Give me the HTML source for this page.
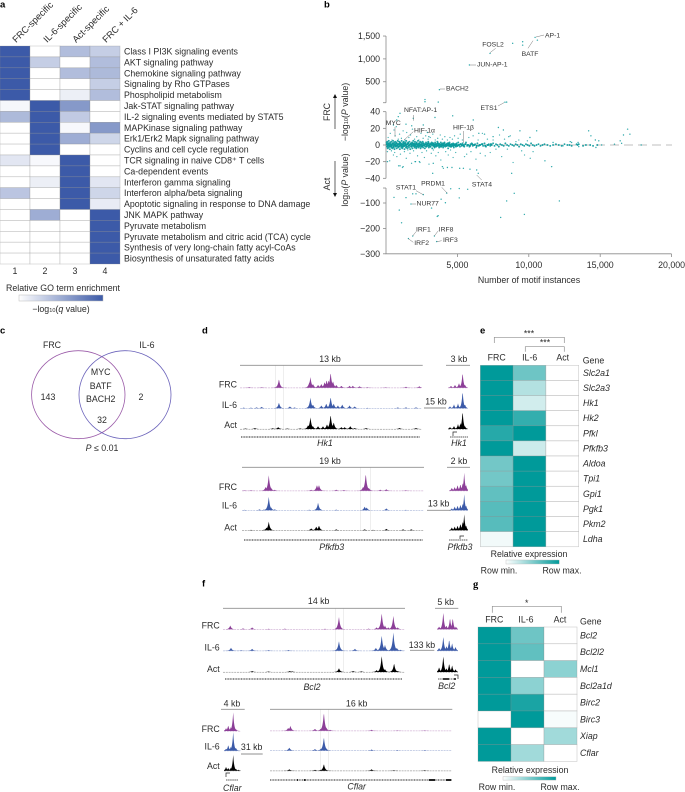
<!DOCTYPE html>
<html lang="en">
<head>
<meta charset="utf-8">
<title>Motif enrichment figure</title>
<style>
html,body{margin:0;padding:0;background:#fff;width:685px;height:792px;overflow:hidden}
svg{display:block;font-family:"Liberation Sans",sans-serif;fill:#2b2b2b}
text{font-size:8.8px;dominant-baseline:central}
.m{text-anchor:middle}
.e{text-anchor:end}
.pl{font-weight:bold;font-size:9.5px;fill:#000}
.an{font-size:6.8px;fill:#333}
.tr{font-size:8.8px}
.it{font-style:italic}
.cl{font-size:9.3px}
.ax{stroke:#8a8a8a;stroke-width:.8;fill:none}
.ld{stroke:#666;stroke-width:.45;fill:none}
.sc{stroke:#8f8f8f;stroke-width:.9;fill:none}
.br{stroke:#8f8f8f;stroke-width:.7;fill:none}
</style>
</head>
<body>
<svg id="fig" xmlns="http://www.w3.org/2000/svg" width="685" height="792" viewBox="0 0 685 792">
<defs>
<linearGradient id="gb" x1="0" x2="1" y1="0" y2="0"><stop offset="0" stop-color="#fff"/><stop offset="1" stop-color="#3c5aa8"/></linearGradient>
<linearGradient id="gt" x1="0" x2="1" y1="0" y2="0"><stop offset="0" stop-color="#fff"/><stop offset="1" stop-color="#009a9a"/></linearGradient>
</defs>

<text class="pl" x="0" y="5">a</text>
<text class="pl" x="324" y="5">b</text>
<text class="pl" x="0" y="331">c</text>
<text class="pl" x="202" y="331">d</text>
<text class="pl" x="480" y="331">e</text>
<text class="pl" x="202" y="584">f</text>
<text class="pl" x="473" y="585" style="font-family:'Liberation Serif',serif;font-size:10.5px">g</text>

<!-- panel a -->
<g id="heatA"></g>
<text class="m" x="63" y="288">Relative GO term enrichment</text>
<rect x="19" y="295" width="84" height="6" fill="url(#gb)" stroke="#bbb" stroke-width=".5"/>
<text class="m" x="61" y="309">−log<tspan font-size="5.6" dy="2">10</tspan><tspan dy="-2">(</tspan><tspan font-style="italic">q</tspan> value)</text>

<!-- panel b -->
<line x1="386" x2="672" y1="145" y2="145" stroke="#aaa" stroke-width=".8" stroke-dasharray="9 5"/>
<g id="axesB"></g>
<g id="dots"></g>
<g>
<path class="ld" d="M536 37L544 35M490 52.7L495.7 48.3M533 40.7L528 48.3M470 65H476M440 89H445M498 106L504 102.7M413.3 115V120.7M395 127V136.7M413.3 131.7L404 140M463.3 131V143M476.7 175L481.7 180M441.7 187.3L447.3 193.3M416 190.7L423.3 194.7M411.7 204H416M412.7 236L416 231.7M434.3 236L438.3 230.7M436.7 241.7L441.7 240.7M408.3 238.7L413.3 242.3"/>
</g>
<text class="an" x="545" y="36">AP-1</text>
<text class="an m" x="493" y="45">FOSL2</text>
<text class="an m" x="530" y="54.3">BATF</text>
<text class="an" x="477" y="65">JUN-AP-1</text>
<text class="an" x="446" y="89">BACH2</text>
<text class="an m" x="489" y="108.7">ETS1</text>
<text class="an" x="404" y="110.7">NFAT:AP-1</text>
<text class="an" x="385.7" y="123.3">MYC</text>
<text class="an" x="414" y="131">HIF-1α</text>
<text class="an" x="453" y="128">HIF-1β</text>
<text class="an m" x="482" y="185">STAT4</text>
<text class="an m" x="433" y="184">PRDM1</text>
<text class="an m" x="406" y="188">STAT1</text>
<text class="an m" x="427.7" y="204">NUR77</text>
<text class="an" x="416" y="230">IRF1</text>
<text class="an" x="438.7" y="230">IRF8</text>
<text class="an" x="443" y="240.7">IRF3</text>
<text class="an" x="414.3" y="243.7">IRF2</text>
<text class="m" x="529" y="280">Number of motif instances</text>
<text class="m" transform="translate(327,112) rotate(-90)">FRC</text>
<text class="m" transform="translate(327,184) rotate(-90)">Act</text>
<text class="m" transform="translate(345,112) rotate(-90)">−log<tspan font-size="5.6" dy="2">10</tspan><tspan dy="-2">(</tspan><tspan font-style="italic">P</tspan> value)</text>
<text class="m" transform="translate(345,180) rotate(-90)">log<tspan font-size="5.6" dy="2">10</tspan><tspan dy="-2">(</tspan><tspan font-style="italic">P</tspan> value)</text>
<g>
<path d="M335 129V97" stroke="#222" stroke-width=".7"/><path d="M335 94l-2 4h4z" fill="#111"/>
<path d="M335 161V194" stroke="#222" stroke-width=".7"/><path d="M335 197l-2 -4h4z" fill="#111"/>
</g>

<!-- panel c -->
<text class="m" x="52" y="345">FRC</text>
<text class="m" x="147" y="345">IL-6</text>
<ellipse cx="78.3" cy="394.7" rx="46.7" ry="44" fill="none" stroke="#9a5aa8" stroke-width=".8"/>
<ellipse cx="125" cy="394.7" rx="46" ry="44" fill="none" stroke="#6a62ba" stroke-width=".8"/>
<text class="m" x="100.7" y="372">MYC</text>
<text class="m" x="100.7" y="386">BATF</text>
<text class="m" x="100.7" y="399">BACH2</text>
<text class="m" x="48" y="397">143</text>
<text class="m" x="141" y="397">2</text>
<text class="m" x="102" y="420">32</text>
<text class="m" x="102" y="448"><tspan font-style="italic">P</tspan> ≤ 0.01</text>

<!-- panels d and f tracks -->
<g stroke="#e2e2e2" stroke-width=".6">
<path d="M275.3 365V429M283.7 365V429M360.3 467V530M370.7 467V530M335.3 608V672M343.3 608V672M320.7 709V771M328.3 709V771"/>
</g>
<g id="tracks"></g>
<g>
<path class="sc" d="M240 365.3H422.7M446 365.3H470M424 408H446M242 467.3H424M447 467.3H470M427 510.3H450.7M223 608.3H405M435 608.3H458.3M410 650.3H434.3M221 709.3H244.7M241 754H262.7M270 709.3H452.3"/>
</g>
<g stroke="#222" fill="none">
<path d="M241 437H420M244 540H423M225 679H402M270 780H452" stroke-width=".9" stroke-dasharray="1 .6"/>
<path d="M450 437H468M449 540H468M438 679H456M226 780H238" stroke-width=".7" stroke-dasharray="1.5 .6"/>
<path d="M297 780h1M304 780h1.5M429 780h6M446 780h5" stroke-width="2"/>
<path d="M443 679h6M456 679h-2" stroke-width="1.8"/>
<path d="M226 777V773H230M453 436v-4h4M458 679v-4h-4M460 539v-3h4" stroke-width=".7"/>
</g>
<text class="m it" x="325" y="443">Hk1</text>
<text class="m it" x="459" y="443">Hk1</text>
<text class="m it" x="331.7" y="547">Pfkfb3</text>
<text class="m it" x="460" y="547">Pfkfb3</text>
<text class="m it" x="312" y="687">Bcl2</text>
<text class="m it" x="446.7" y="686">Bcl2</text>
<text class="m it" x="232.3" y="788">Cflar</text>
<text class="m it" x="356.7" y="786.7">Cflar</text>
<text class="m" x="330" y="359">13 kb</text>
<text class="m" x="459" y="359">3 kb</text>
<text class="m" x="436" y="401.7">15 kb</text>
<text class="m" x="330" y="461">19 kb</text>
<text class="m" x="459" y="461">2 kb</text>
<text class="m" x="438.7" y="503.7">13 kb</text>
<text class="m" x="318.7" y="601">14 kb</text>
<text class="m" x="445.7" y="602">5 kb</text>
<text class="m" x="422" y="645">133 kb</text>
<text class="m" x="232" y="703.3">4 kb</text>
<text class="m" x="251.7" y="747">31 kb</text>
<text class="m" x="356.7" y="703.3">16 kb</text>
<g>
<text class="e tr" x="237" y="384.7">FRC</text><text class="e tr" x="237" y="405">IL-6</text><text class="e tr" x="237" y="425">Act</text>
<text class="e tr" x="237" y="487">FRC</text><text class="e tr" x="237" y="505.7">IL-6</text><text class="e tr" x="237" y="527.7">Act</text>
<text class="e tr" x="219.7" y="625.7">FRC</text><text class="e tr" x="219.7" y="647.3">IL-6</text><text class="e tr" x="219.7" y="669">Act</text>
<text class="e tr" x="219.7" y="729">FRC</text><text class="e tr" x="219.7" y="746.7">IL-6</text><text class="e tr" x="219.7" y="766">Act</text>
</g>

<!-- panel e -->
<g id="heatE"></g>
<path class="br" d="M494.3 343V337.3H564.3V343M525.3 351.7V346.7H564.3V351.7"/>
<text class="m" x="529" y="333.5">***</text>
<text class="m" x="545" y="342.5">***</text>
<text class="m" x="496.7" y="357.7">FRC</text>
<text class="m" x="529.7" y="357.7">IL-6</text>
<text class="m" x="562.7" y="357.7">Act</text>
<text x="582.7" y="360.7">Gene</text>
<text class="m" x="529" y="554">Relative expression</text>
<rect x="506" y="560" width="53.3" height="4" fill="url(#gt)" stroke="#bbb" stroke-width=".4"/>
<text class="m" x="499" y="570.5">Row min.</text>
<text class="m" x="562" y="570.5">Row max.</text>

<!-- panel g -->
<g id="heatG"></g>
<path class="br" d="M492.3 612.7V606.3H561.3V612.7"/>
<text class="m" x="526.7" y="603">*</text>
<text class="m" x="494.3" y="619.7">FRC</text>
<text class="m" x="526" y="619.7">IL-6</text>
<text class="m" x="560" y="619.7">Act</text>
<text x="580" y="621.7">Gene</text>
<text class="m" x="530" y="770">Relative expression</text>
<rect x="503" y="776.7" width="53" height="3.4" fill="url(#gt)" stroke="#bbb" stroke-width=".4"/>
<text class="m" x="497" y="787">Row min.</text>
<text class="m" x="560" y="787">Row max.</text>
</svg>

<script>
// ---------- heatmap data ----------
const goColumns = ["FRC-specific","IL-6-specific","Act-specific","FRC + IL-6"];
const goColumnNumbers = ["1","2","3","4"];
const goTerms = ["Class I PI3K signaling events","AKT signaling pathway","Chemokine signaling pathway","Signaling by Rho GTPases","Phospholipid metabolism","Jak-STAT signaling pathway","IL-2 signaling events mediated by STAT5","MAPKinase signaling pathway","Erk1/Erk2 Mapk signaling pathway","Cyclins and cell cycle regulation","TCR signaling in naive CD8⁺ T cells","Ca-dependent events","Interferon gamma signaling","Interferon alpha/beta signaling","Apoptotic signaling in response to DNA damage","JNK MAPK pathway","Pyruvate metabolism","Pyruvate metabolism and citric acid (TCA) cycle","Synthesis of very long-chain fatty acyl-CoAs","Biosynthesis of unsaturated fatty acids"];
const goValues = [[1,0,.4,.3],[1,.3,0,.4],[1,0,.4,.42],[1,0,0,.3],[1,0,.1,.4],[.05,1,.62,0],[.42,1,.32,0],[0,1,.04,.62],[0,1,.5,.25],[0,1,0,0],[.15,.04,1,0],[0,0,1,0],[0,.1,1,.15],[.35,0,1,.25],[0,0,1,.12],[0,.5,0,1],[0,0,0,1],[0,0,0,1],[0,0,0,1],[0,0,0,1]];
const glycoGenes = ["Slc2a1","Slc2a3","Hk1","Hk2","Pfkl","Pfkfb3","Aldoa","Tpi1","Gpi1","Pgk1","Pkm2","Ldha"];
const glycoValues = [[1,.57,0],[1,.3,0],[1,.18,0],[1,.8,0],[.85,1,0],[1,.2,0],[.55,1,0],[.55,1,0],[.62,1,0],[.66,1,0],[.66,1,0],[.05,1,0]];
const survivalGenes = ["Bcl2","Bcl2l2","Mcl1","Bcl2a1d","Birc2","Birc3","Xiap","Cflar"];
const survivalValues = [[1,.57,0],[1,.62,0],[1,0,.45],[1,.45,0],[1,.9,0],[0,1,.03],[1,0,.37],[1,.37,0]];

// ---------- scatter data (motif instances, signed -log10 P) ----------
const xTicks = [5000,10000,15000,20000];
const xTickLabels = ["5,000","10,000","15,000","20,000"];
const yTicks = [1500,1000,500,40,20,0,-20,-40,-100,-200,-300];
const yTickLabels = ["1,500","1,000","500","40","20","0","−20","−40","−100","−200","−300"];
const yBreakTicks = [41,-41];
const outlierX = [10440,10600,8870,9570,9570,7285,5840,3740,2730,2730,3660,8330,8450,1870,3390,3550,1570,560,1400,930,1090,2100,1870,2610,1750,3860,4160,4250,3190,3590,3650,4530,5130,5130,5720,8980,8450,8030,9690,12140];
const outlierY = [1470,1410,1340,1375,1300,1120,866,325,110,62,55,52,54,-230,-230,-252,-240,-78,-79,-128,-178,-64,-64,-67,-104,-85,-99,-61,-120,-153,-150,-44,-43,-80,-46,-62,-92,-157,-145,-92];
const spreadX = [980,860,750,520,3430,4670,6110,1910,1400,1800,2610,7870,8220,9380,10550,10080,14190,14350,14660,16920,16630,17080,16400,17870,11600,11130,8800,6350,6460,5880,5420,5160,4620,4300,3950,3310,3270,2340,2040,980,1200,100,2900,3000,8600,6500,6900,7500,13000,12900,13450,13500,14900,14700,16000,16500,15100,11700,12400];
const spreadY = [38,34,30,24,33,35,30,32,25,23,24,21,18,17,17,9,17,11,6,19,12,13,5,0,-26,-19,-34,-30,-34,-29,-28,-28,-27,-27,-26,-22,-34,-20,-20,-25,-26,-20,15,10,10,14,13,10,3,4,3,-2,5,-3,1,2,0,3,-1];
const lowX = [150,300,420,560,640,720,860,950,1080,1200,1330,1450,1600,1720,1850,2000,2150,2300,2450,2600,2780,2950,3100,3280,3450,3620,3800,3950,4120,4300,4480,4650,4800,100,260,380,520,610,760,880,1010,1150,1290,1420,1530,1680,1790,1930,2070,2210,2380,2520,2690,2840,3010,3170,3320,3490,3660,3840,4020,4180,4360,4520,4700,4880,5050,5200,5350,5500,5650,5800,5950,6100,6300,6450,6600,6750,6950,7100,7300,7500,7700,7950,8100,8300,8500,8700,8900,9100,9300,9500,9700,9900,10100,10300];
const lowY = [9,14,6,18,11,22,7,13,8,17,6,15,9,12,19,7,10,6,14,8,11,7,9,13,6,8,12,7,10,6,9,7,11,-8,-19,-7,-12,-9,-14,-25,-11,-27,-8,-16,-6,-10,-22,-7,-20,-13,-21,-9,-15,-7,-23,-10,-6,-13,-9,-18,-28,-8,-12,-6,-15,-9,8,13,6,-14,-11,9,-8,11,-17,6,-10,14,-13,7,-9,6,-5,12,-14,7,-5,11,-21,4,6,-7,-12,5,-16,-8];
const bandX = [40,70,95,120,145,170,195,220,245,270,295,320,345,370,395,420,445,470,495,520,545,570,595,620,645,670,695,720,745,770,795,820,845,870,895,920,945,970,995,1020,1045,1070,1095,1120,1145,1170,1195,1220,1245,1270,1295,1320,1345,1370,1395,1420,1445,1470,1495,1520,1550,1580,1610,1640,1670,1700,1730,1760,1790,1820,1850,1880,1910,1940,1970,2000,2030,2060,2090,2120,2150,2180,2210,2240,2270,2300,2330,2360,2390,2420,2450,2480,2510,2540,2570,2600,2640,2680,2720,2760,2800,2840,2880,2920,2960,3000,3040,3080,3120,3160,3200,3240,3280,3320,3360,3400,3440,3480,3520,3560,3600,3640,3680,3720,3760,3800,3840,3880,3920,3960,4000,4050,4100,4150,4200,4250,4300,4350,4400,4450,4500,4550,4600,4650,4700,4750,4800,4850,4900,4950,5000,5060,5120,5180,5240,5300,5360,5420,5480,5540,5600,5680,5760,5840,5920,6000,6080,6160,6240,6320,6400,6500,6600,6700,6800,6900,7000,7100,7200,7300,7400,7500,7600,7700,7800,7900,8000,8120,8240,8360,8480,8600,8720,8840,8960,9080,9200,9320,9440,9560,9680,9800,9920,10040,10160,10280,10400,10540,10680,10820,10960,11100,11300,11500,11700,11900,12100,12300,12500,12700,12850,13000,13350,13420,13500,13800,14000,14300,14500,14800];
const bandY = [3,-2,4,-4,1,-3,5,-1,2,-5,3,0,-2,4,-3,1,-4,2,5,-1,-3,3,-5,1,4,-2,0,3,-4,2,-1,5,-3,1,-2,4,0,-5,3,-1,2,-3,5,0,-4,1,3,-2,4,-1,-5,2,0,3,-3,5,-2,1,-4,2,3,-1,-3,4,0,-5,2,1,-2,3,-4,0,5,-1,2,-3,4,-2,1,-4,3,0,-1,5,-3,2,-2,1,4,-4,0,3,-2,-1,4,-3,2,0,-4,1,3,-2,2,-1,4,-3,0,2,-2,1,3,-4,0,2,-1,-3,3,1,-2,0,4,-1,2,-3,1,-2,3,0,-1,2,-3,1,3,-2,0,-1,2,-4,1,3,-2,0,1,-1,2,-3,0,1,-2,2,-1,3,0,-2,1,-1,2,0,-2,1,3,-1,0,-2,1,2,-1,0,1,-3,2,-1,0,1,-1,2,-2,0,1,-1,0,2,-1,1,0,-2,1,0,-1,2,0,-1,1,0,-1,1,0,-2,1,0,-1,1,0,-1,2,0,-1,0,1,-1,0,1,0,-1,0,1,0,-1,1,0,0,-1,1,0,1,-1,0,0,-1,0];
const coreX = [60,110,160,210,260,310,360,410,460,510,560,610,660,710,760,810,860,910,960,1010,1060,1110,1160,1210,1260,1310,1360,1410,1460,1510,1560,1610,1660,1710,1760,1810,1860,1910,1960,2010,2060,2110,2160,2210,2260,2310,2360,2410,2460,2510,2560,2610,2660,2710,2760,2810,2860,2910,2960,3010,3060,3110,3160,3210,3260,3310,3360,3410,3460,3510,3560,3610,3660,3710,3760,3810,3860,3910,3960,4010,4060,4110,4160,4210,4260,4310,4360,4410,4460,4510,4560,4610,4660,4710,4760,4810,4860,4910,4960,5010,5090,5210,5330,5450,5570,5720,5880,6040,6200,6360,6550,6750,6950,7150,7350];
const coreY = [1,-1,2,0,-2,1,-1,0,2,-2,1,0,-1,2,-1,0,1,-2,2,0,-1,1,-2,0,2,-1,1,0,-2,1,2,-1,0,1,-2,0,2,-1,1,-1,0,2,-2,1,0,-1,2,0,-2,1,-1,2,0,-1,1,-2,0,1,2,-1,0,-2,1,0,2,-1,1,-2,0,1,-1,2,0,-1,1,0,-2,1,0,-1,2,-1,0,1,-1,0,2,-1,1,0,-2,1,0,-1,1,0,-1,1,0,-1,0,1,0,-1,1,0,-1,1,0,-1,0,1,-1,0,1];

// ---------- genome track data: each peak is [locus position %, signal height] ----------
const hk1Frc = [[5,.6],[12,.5],[21.4,9],[38,5],[38.7,11],[40.1,4],[42.9,3],[44.7,4],[46.5,6],[47.6,8],[48.7,8],[49.8,16],[51.1,7],[52.9,3],[55.7,2],[60.2,2],[62,2],[65.7,1.5],[70,.6],[80,.5],[91.2,1],[98.5,1.5]];
const hk1Il6 = [[2,.7],[6,.7],[9.1,1],[11.9,1.5],[21.4,6],[27.4,2],[30,1],[38.7,11],[40.1,4],[44.7,3],[47.4,5],[49.8,12],[51.5,5],[53.8,3],[56.2,4],[60.2,3],[63,2],[70,.5],[86.7,1],[91.2,1],[96.7,1]];
const hk1Act = [[3,.5],[8.2,1],[21,2],[18,.8],[26,.5],[33,.6],[37.4,4],[38.7,12],[40.1,3],[42.9,3],[45.6,3],[47.8,5],[49.8,15],[51.5,7],[55.7,2],[57.5,2],[60.6,3],[63,1],[69.3,1],[87.6,1],[96.7,1]];
const hk1InsetFrc = [[15,2],[35,3],[55,5],[73,16],[85,3]];
const hk1InsetIl6 = [[10,2],[30,4],[50,5],[73,18],[85,4]];
const hk1InsetAct = [[10,2],[30,3],[50,5],[62,6],[73,19],[85,3]];
const pfkFrc = [[1.5,.5],[5,.5],[13,4],[14.7,16],[16,3],[18,1],[38,1],[41.2,6],[42.3,6],[51.8,1],[56,.7],[66.5,4],[68,18],[69.7,3],[76,1],[79.3,1.5],[90,.5]];
const pfkIl6 = [[1.5,.5],[9.6,1],[12,.8],[14.7,14],[16,3],[18,1],[37,.6],[41.8,8],[43,1.5],[51.8,.7],[67.4,4],[68.5,3],[79.3,2],[90,.5]];
const pfkAct = [[5,.5],[12,.6],[13.5,3],[14.7,9],[38,2],[40.8,4],[42.3,5],[51.8,1],[67.4,1],[72,.5],[79.3,1.5],[88.5,1],[93,1]];
const pfkInsetFrc = [[15,3],[30,4],[45,6],[60,7],[72,8],[80,18],[90,6]];
const pfkInsetIl6 = [[15,2],[30,4],[45,5],[60,6],[72,7],[80,16],[90,5]];
const pfkInsetAct = [[15,3],[30,4],[45,5],[60,7],[72,9],[80,16],[90,5]];
const bclFrc = [[4,4],[11,1],[16,2],[25,.6],[34,.7],[56,.6],[63.7,13],[80,.7],[84.4,2],[87.2,17],[89,4],[90.8,2],[93.6,14],[96,2]];
const bclIl6 = [[4.4,3],[10,.6],[16,2],[25,.6],[36,.7],[63,2],[63.7,10],[72.5,2],[84,3],[87.2,16],[89,6],[93.6,19],[95.5,3],[97.5,1]];
const bclAct = [[16,1],[25,.5],[36.7,1],[38,.7],[63.7,4],[71.5,1],[76,.7],[84.4,2],[87.2,17],[89,3],[94,9],[96,1]];
const bclInsetFrc = [[10,3],[30,18],[45,4],[62,12],[75,12],[90,3]];
const bclInsetIl6 = [[10,3],[30,15],[45,5],[58,12],[72,8],[88,4]];
const bclInsetAct = [[10,5],[30,17],[45,4],[58,9],[72,7],[88,3]];
const cflInsetFrc = [[12,3],[25,6],[40,4],[54,19],[70,2]];
const cflInsetIl6 = [[12,2],[25,6],[40,4],[54,19],[70,3]];
const cflInsetAct = [[12,4],[25,3],[40,3],[54,16],[70,2],[85,1]];
const cflFrc = [[10,3],[11.2,5],[24.7,2],[27.8,2],[29.6,19],[31,3],[33,1],[55.8,1],[70,.4],[85,.4]];
const cflIl6 = [[10.6,3],[24.7,1.5],[28,2],[29.6,14],[31,2],[55.8,1],[70,.4],[85,.4]];
const cflAct = [[10.6,1.5],[24.7,1],[27.8,1],[29.6,7],[31,.6],[55.8,1.5],[68,.5],[85,.5]];

// ---------- drawing ----------
const NS = "http://www.w3.org/2000/svg";
function mk(tag, attrs, parent){
  const el = document.createElementNS(NS, tag);
  for (const k in attrs) el.setAttribute(k, attrs[k]);
  parent.appendChild(el);
  return el;
}
function mix(hex, v){
  const c = [parseInt(hex.slice(1,3),16),parseInt(hex.slice(3,5),16),parseInt(hex.slice(5,7),16)];
  return "rgb(" + c.map(a => Math.round(255 + (a-255)*v)).join(",") + ")";
}
function heatmap(groupId, values, hex, x0, y0, cw, rh, prefix){
  const g = document.getElementById(groupId);
  values.forEach((row, r) => row.forEach((v, c) => {
    const cell = mk("rect", {x:x0+c*cw, y:y0+r*rh, width:cw, height:rh, fill:mix(hex,v), stroke:"rgba(140,140,140,.45)", "stroke-width":.6}, g);
    
    
  }));
}
function rowLabels(groupId, labels, x, y0, rh, italic, prefix){
  const g = document.getElementById(groupId);
  labels.forEach((t, r) => {
    const el = mk("text", {x:x, y:y0+(r+.5)*rh}, g);
    if (italic) el.setAttribute("class", "it");
    el.textContent = t;
    
    
  });
}
heatmap("heatA", goValues, "#3c5aa8", 0, 46, 30, 10.9, "go");
rowLabels("heatA", goTerms, 124, 46, 10.9, false, "go");
(function(){
  const g = document.getElementById("heatA");
  const anchors = [14,45,74,104];
  goColumns.forEach((t, i) => {
    const el = mk("text", {class:"cl", transform:"translate("+anchors[i]+",41) rotate(-45)"}, g);
    el.textContent = t;
    
    
    const n = mk("text", {x:15+30*i, y:271, class:"m"}, g);
    n.textContent = goColumnNumbers[i];
    
    
  });
})();
heatmap("heatE", glycoValues, "#009a9a", 480.3, 365.3, 32.8, 15.12, "glycolysis");
rowLabels("heatE", glycoGenes, 583, 365.3, 15.12, true, "glycolysis");
heatmap("heatG", survivalValues, "#009a9a", 478, 627, 33, 16.8, "survival");
rowLabels("heatG", survivalGenes, 580, 627, 16.8, true, "survival");

function xScale(v){ return 386 + v * 71.4 / 5000; }
function yScale(v){
  if (v > 40) return 102.76 - (v - 40) * 0.0457;
  if (v < -40) return 187.76 + (-40 - v) * 0.254;
  return 145 - v * 0.833;
}
(function(){
  const g = document.getElementById("axesB");
  const ax = mk("path", {class:"ax", d:"M386 "+yScale(1500)+"V"+yScale(41)+"M386 "+yScale(40)+"V"+yScale(-40)+"M386 "+yScale(-41)+"V"+yScale(-300)+"H"+xScale(20000)}, g);
  
  
  xTicks.forEach((v, i) => {
    const t = mk("line", {class:"ax", x1:xScale(v), x2:xScale(v), y1:254, y2:257}, g);
    
    
    const l = mk("text", {class:"m", x:xScale(v), y:265}, g);
    l.textContent = xTickLabels[i];
    
    
  });
  yTicks.forEach((v, i) => {
    const t = mk("line", {class:"ax", x1:383, x2:386, y1:yScale(v), y2:yScale(v)}, g);
    
    
    const l = mk("text", {class:"e", x:380, y:yScale(v)}, g);
    l.textContent = yTickLabels[i];
    
    
  });
  yBreakTicks.forEach(v => {
    const t = mk("line", {class:"ax", x1:383, x2:386, y1:yScale(v), y2:yScale(v)}, g);
    
    
  });
})();
function plotDots(xs, ys, r, op){
  const g = document.getElementById("dots");
  xs.forEach((x, i) => {
    const d = mk("circle", {cx:xScale(x), cy:yScale(ys[i]), r:r, fill:"#0a9a9c", "fill-opacity":op}, g);
    
    
  });
}
plotDots(outlierX, outlierY, .7, .85);
plotDots(spreadX, spreadY, .7, .85);
plotDots(lowX, lowY, .65, .75);
plotDots(bandX, bandY, .95, .9);
plotDots(coreX, coreY, 1.05, 1);

function track(peaks, x0, x1, base, color, tau, prefix){
  const g = document.getElementById("tracks");
  let d = "M" + x0 + " " + base;
  for (let x = x0; x <= x1; x += .4) {
    let h = 0;
    peaks.forEach(p => {
      const px = x0 + p[0] / 100 * (x1 - x0);
      h = Math.max(h, p[1] * Math.exp(-Math.abs(x - px) / tau));
    });
    d += "L" + x.toFixed(1) + " " + (base - h).toFixed(2);
  }
  d += "L" + x1 + " " + base + "Z";
  const base2 = mk("line", {x1:x0, x2:x1, y1:base+.2, y2:base+.2, stroke:color, "stroke-width":.5, "stroke-opacity":.55, "stroke-dasharray":"2 .8"}, g);
  
  
  const p = mk("path", {d:d, fill:color}, g);
  
  
}
const PUR = "#8c3f98", BLU = "#3c5aa8", BLK = "#000000";
track(hk1Frc, 240, 422, 387.7, PUR, 1.2, "hk1-frc");
track(hk1Il6, 240, 422, 408.3, BLU, 1.2, "hk1-il6");
track(hk1Act, 240, 422, 429, BLK, 1.2, "hk1-act");
track(hk1InsetFrc, 448, 468, 387.7, PUR, 1, "hk1-inset-frc");
track(hk1InsetIl6, 448, 468, 408.3, BLU, 1, "hk1-inset-il6");
track(hk1InsetAct, 448, 468, 429, BLK, 1, "hk1-inset-act");
track(pfkFrc, 242, 424, 490.7, PUR, 1.2, "pfkfb3-frc");
track(pfkIl6, 242, 424, 510.3, BLU, 1.2, "pfkfb3-il6");
track(pfkAct, 242, 424, 530.3, BLK, 1.2, "pfkfb3-act");
track(pfkInsetFrc, 449, 468, 490.7, PUR, 1, "pfkfb3-inset-frc");
track(pfkInsetIl6, 449, 468, 510.3, BLU, 1, "pfkfb3-inset-il6");
track(pfkInsetAct, 449, 468, 530.3, BLK, 1, "pfkfb3-inset-act");
track(bclFrc, 223, 405, 629.3, PUR, 1.2, "bcl2-frc");
track(bclIl6, 223, 405, 650.7, BLU, 1.2, "bcl2-il6");
track(bclAct, 223, 405, 672, BLK, 1.2, "bcl2-act");
track(bclInsetFrc, 437, 458, 629.3, PUR, 1, "bcl2-inset-frc");
track(bclInsetIl6, 437, 458, 650.7, BLU, 1, "bcl2-inset-il6");
track(bclInsetAct, 437, 458, 672, BLK, 1, "bcl2-inset-act");
track(cflInsetFrc, 224, 241, 731, PUR, 1, "cflar-inset-frc");
track(cflInsetIl6, 224, 241, 750.7, BLU, 1, "cflar-inset-il6");
track(cflInsetAct, 224, 241, 770.7, BLK, 1, "cflar-inset-act");
track(cflFrc, 270, 452, 730.7, PUR, 1.2, "cflar-frc");
track(cflIl6, 270, 452, 750.5, BLU, 1.2, "cflar-il6");
track(cflAct, 270, 452, 770.7, BLK, 1.2, "cflar-act");
</script>
</body>
</html>
